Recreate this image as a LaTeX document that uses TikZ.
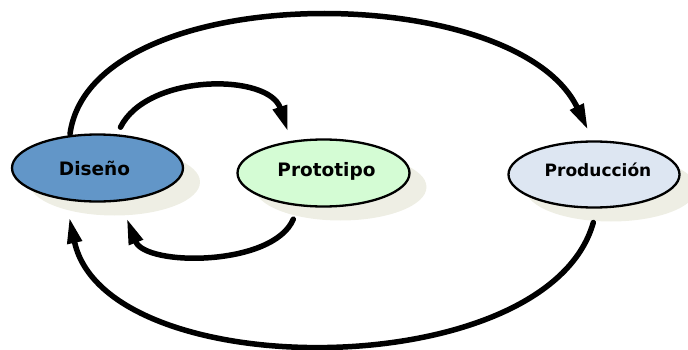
\documentclass[tikz,border=0pt]{standalone}
\usepackage{fontspec}
\setmainfont{DejaVu Sans}
\usetikzlibrary{arrows.meta,shapes.geometric,shadows}
\definecolor{shadowc}{RGB}{238,238,228}
\definecolor{disfill}{RGB}{98,150,200}
\definecolor{profill}{RGB}{212,252,212}
\definecolor{prodfill}{RGB}{221,230,242}
\tikzset{
  stage/.style={ellipse, draw=black, line width=2.3pt, inner sep=0pt,
    minimum width=171pt, minimum height=67pt,
    font=\fontsize{18.5}{22}\selectfont\bfseries,
    drop shadow={shadow xshift=17pt, shadow yshift=-14pt, fill=shadowc, opacity=1, draw=none}},
  flow/.style={line width=5.5pt, line cap=round, -{Triangle[length=26pt,width=14pt]}}
}
\begin{document}
\begin{tikzpicture}[x=1pt,y=1pt]
\useasboundingbox (0,0) rectangle (688,349);
\node[stage, fill=disfill] (dis) at (97.5,181) {\hspace*{-6pt}Diseño};
\node[stage, fill=profill, minimum width=172pt] (pro) at (323.5,176) {\hspace*{6pt}\raisebox{2pt}[\height][\depth]{Prototipo}};
\node[stage, fill=prodfill, minimum height=66pt, font=\fontsize{17}{20}\selectfont\bfseries] (prod) at (594,174.5) {\hspace*{8pt}\raisebox{5pt}[\height][\depth]{Producción}};
% Diseño -> Producción (big top arc)
\draw[flow] ([shift={(-27.5,34)}]dis.center) .. controls +(21,156) and +(-73,152) .. ([shift={(-6,44.5)}]prod.center);
% Diseño -> Prototipo (small top arc)
\draw[flow] ([shift={(23,40.8)}]dis.center) .. controls +(27,54) and +(-19.2,58.7) .. ([shift={(-35.5,41.3)}]pro.center);
% Prototipo -> Diseño (small bottom arc)
\draw[flow] ([shift={(-30.2,-46.2)}]pro.center) .. controls +(-20,-47.5) and +(18.6,-48.4) .. ([shift={(29.2,-50.3)}]dis.center);
% Producción -> Diseño (big bottom arc)
\draw[flow] ([shift={(-0.7,-48)}]prod.center) .. controls +(-46,-163.5) and +(35.9,-168.7) .. ([shift={(-28.2,-49.3)}]dis.center);
\end{tikzpicture}
\end{document}
